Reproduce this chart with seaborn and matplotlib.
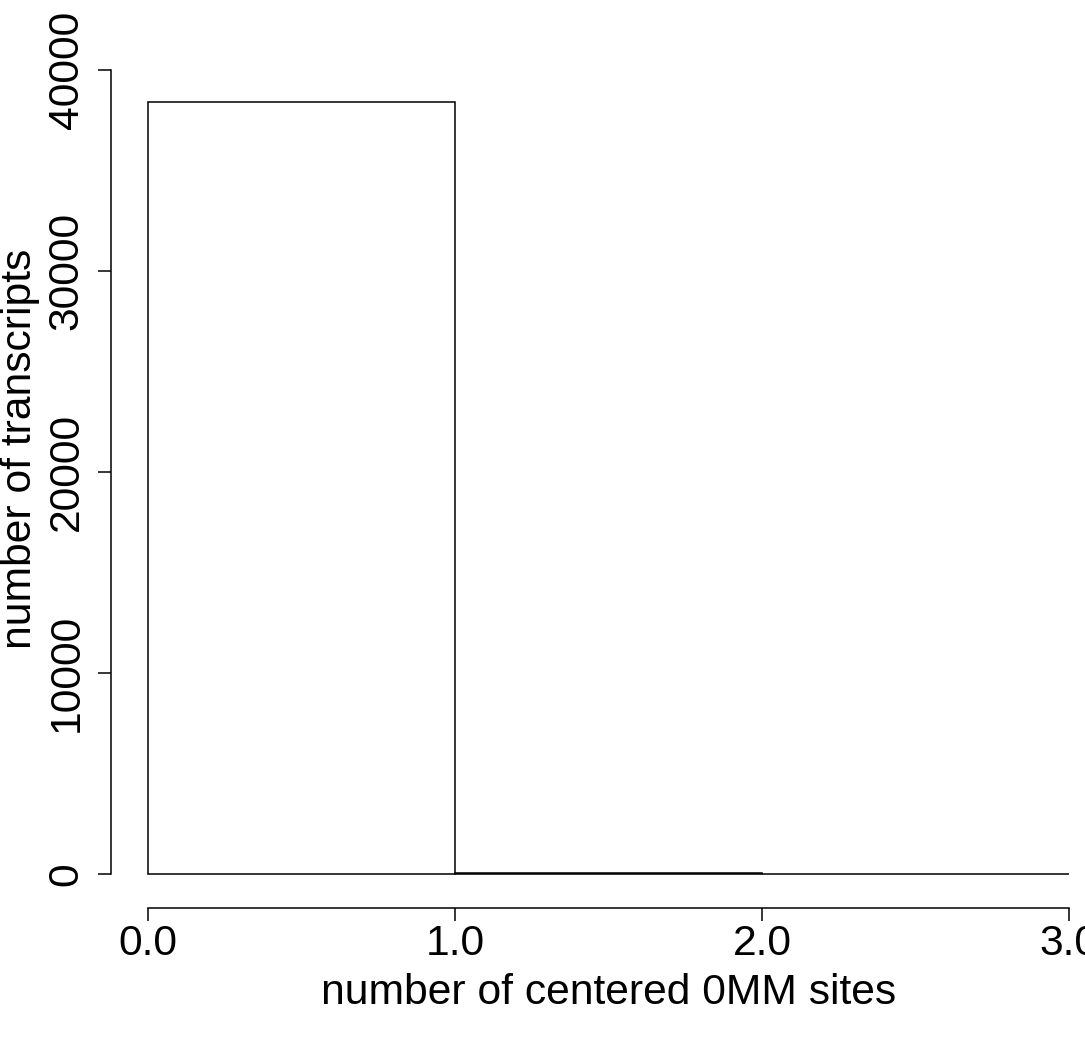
import numpy as np
import pandas as pd
import matplotlib
matplotlib.use("Agg")
import matplotlib.pyplot as plt
import seaborn as sns

# histogram counts
bin_edges = [0, 1, 2, 3]
counts = [38410, 60, 4]
x_ticks = [0, 1, 2, 3]
x_tick_labels = ["0.0", "1.0", "2.0", "3.0"]
y_ticks = [0, 10000, 20000, 30000, 40000]

df = pd.DataFrame({"sites": [0.5, 1.5, 2.5], "n": counts})

sns.set_theme(style="white")
plt.rcParams["font.family"] = ["Liberation Sans", "DejaVu Sans"]
plt.rcParams.update({"text.color": "black", "axes.labelcolor": "black",
                     "xtick.color": "black", "ytick.color": "black"})

fig = plt.figure(figsize=(10.85, 10.38), dpi=100)
ax = fig.add_axes([111 / 1085, 1 - 905 / 1038, (1106 - 111) / 1085, (905 - 70) / 1038])

sns.histplot(data=df, x="sites", weights="n", bins=bin_edges, ax=ax,
             color="white", edgecolor="black", linewidth=1.1, alpha=1)

top = max(counts)
ax.set_xlim(-0.12, 3.12)
ax.set_ylim(-0.04 * top, 1.04 * top)

for s in ["top", "right"]:
    ax.spines[s].set_visible(False)
ax.spines["left"].set_bounds(0, 40000)
ax.spines["bottom"].set_bounds(0, 3)
ax.spines["bottom"].set_position(("outward", 2))
for s in ["left", "bottom"]:
    ax.spines[s].set_color("black")
    ax.spines[s].set_linewidth(1.1)

fs = 30.7
ax.set_xticks(x_ticks)
ax.set_xticklabels(x_tick_labels)
ax.set_yticks(y_ticks)
ax.set_yticklabels([str(v) for v in y_ticks], rotation=90, va="center")
ax.tick_params(axis="both", direction="out", length=9.5, width=1.1, color="black",
               labelcolor="black", labelsize=fs, left=True, bottom=True)
ax.tick_params(axis="y", pad=8)
ax.tick_params(axis="x", pad=2)

ax.set_xlabel("number of centered 0MM sites", fontsize=fs, labelpad=7)
ax.set_ylabel("number of transcripts", fontsize=fs)
ax.yaxis.set_label_coords(-0.071, 0.546)
ax.grid(False)

fig.savefig("out.png", dpi=100, facecolor="white")
